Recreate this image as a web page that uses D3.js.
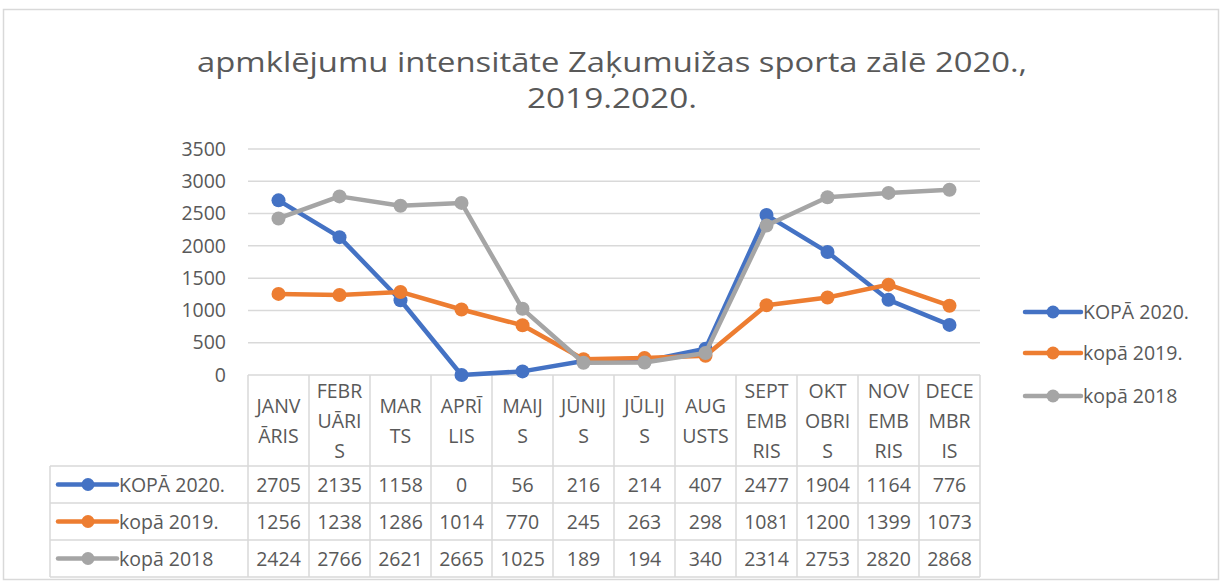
<!DOCTYPE html>
<html><head><meta charset="utf-8">
<script src="https://cdn.jsdelivr.net/npm/d3@7"></script>
<style>body{margin:0;background:#fff}svg{display:block}text{font-family:"Open Sans","Liberation Sans",sans-serif;fill:#595959}</style>
</head><body><svg id="c" width="1220" height="582"></svg>
<script>
const titleLines = ["apmklējumu  intensitāte Zaķumuižas sporta zālē 2020.,", "2019.2020."];
const categoryLines = [["JANV","ĀRIS"],["FEBR","UĀRI","S"],["MAR","TS"],["APRĪ","LIS"],["MAIJ","S"],["JŪNIJ","S"],["JŪLIJ","S"],["AUG","USTS"],["SEPT","EMB","RIS"],["OKT","OBRI","S"],["NOV","EMB","RIS"],["DECE","MBR","IS"]];
const seriesNames = ["KOPĀ 2020.", "kopā 2019.", "kopā 2018"];
const values2020 = [2705,2135,1158,0,56,216,214,407,2477,1904,1164,776];
const values2019 = [1256,1238,1286,1014,770,245,263,298,1081,1200,1399,1073];
const values2018 = [2424,2766,2621,2665,1025,189,194,340,2314,2753,2820,2868];
const yTicks = [0,500,1000,1500,2000,2500,3000,3500];
const colors = ["#4472C4","#ED7D31","#A5A5A5"];

const series = [values2020, values2019, values2018];
const svg = d3.select("#c");
const grid = "#d9d9d9";
const fs = 19.5;

svg.append("rect").attr("x",3.5).attr("y",9.5).attr("width",1215).attr("height",570)
  .attr("fill","none").attr("stroke",grid).attr("stroke-width",1.5);

svg.append("g").selectAll("text").data(titleLines).join("text")
  .attr("x",612).attr("y",(d,i)=>72+i*36).attr("text-anchor","middle")
  .attr("font-size",27).attr("textLength",(d,i)=>i===0?830:170).attr("lengthAdjust","spacingAndGlyphs")
  .text(d=>d);

const x = d3.scaleBand().domain(d3.range(12)).range([248,980]);
const y = d3.scaleLinear().domain([0,3500]).range([375,149]);

svg.append("g").selectAll("line").data(yTicks.slice(1)).join("line")
  .attr("x1",248).attr("x2",980).attr("y1",d=>y(d)).attr("y2",d=>y(d))
  .attr("stroke",grid).attr("stroke-width",1.5);

const ya = svg.append("g").attr("transform","translate(226,0)")
  .call(d3.axisLeft(y).tickValues(yTicks).tickFormat(d3.format("d")).tickSize(0).tickPadding(0));
ya.select(".domain").remove();
ya.selectAll("text").attr("font-size",fs).style("fill","#595959")
  .style("font-family","'Open Sans','Liberation Sans',sans-serif");

const tRow = [375,466,503,540,577];
const tg = svg.append("g");
tg.append("line").attr("x1",248).attr("x2",980).attr("y1",375).attr("y2",375).attr("stroke",grid).attr("stroke-width",1.5);
tg.selectAll("line.h").data(tRow.slice(1)).join("line").attr("class","h")
  .attr("x1",50).attr("x2",980).attr("y1",d=>d).attr("y2",d=>d).attr("stroke",grid).attr("stroke-width",1.5);
const vx = d3.range(13).map(i=>i<12?x(i):x.range()[1]);
tg.selectAll("line.v").data(vx).join("line").attr("class","v")
  .attr("x1",d=>d).attr("x2",d=>d).attr("y1",375).attr("y2",577).attr("stroke",grid).attr("stroke-width",1.5);
tg.append("line").attr("x1",50).attr("x2",50).attr("y1",466).attr("y2",577).attr("stroke",grid).attr("stroke-width",1.5);

categoryLines.forEach((lines,i)=>{
  const n = lines.length;
  const cy = 420.5, lh = 30;
  tg.append("g").selectAll("text").data(lines).join("text")
    .attr("x",x(i)+x.bandwidth()/2).attr("y",(d,j)=>cy+(j-(n-1)/2)*lh+7)
    .attr("text-anchor","middle").attr("font-size",fs).text(d=>d);
});

series.forEach((vals,s)=>{
  const ry = (tRow[s+1]+tRow[s+2])/2 + 7;
  tg.append("g").selectAll("text").data(vals).join("text")
    .attr("x",(d,i)=>x(i)+x.bandwidth()/2).attr("y",ry)
    .attr("text-anchor","middle").attr("font-size",fs).text(d=>d);
  const ky = (tRow[s+1]+tRow[s+2])/2;
  tg.append("line").attr("x1",58).attr("x2",117).attr("y1",ky).attr("y2",ky)
    .attr("stroke",colors[s]).attr("stroke-width",4.5).attr("stroke-linecap","round");
  tg.append("circle").attr("cx",88).attr("cy",ky).attr("r",6.5).attr("fill",colors[s]);
  tg.append("text").attr("x",119).attr("y",ry).attr("font-size",fs).text(seriesNames[s]);
});

const line = d3.line().x((d,i)=>x(i)+x.bandwidth()/2).y(d=>y(d));
series.forEach((vals,s)=>{
  const g = svg.append("g");
  g.append("path").datum(vals).attr("d",line).attr("fill","none")
    .attr("stroke",colors[s]).attr("stroke-width",4.5).attr("stroke-linejoin","round");
  g.selectAll("circle").data(vals).join("circle")
    .attr("cx",(d,i)=>x(i)+x.bandwidth()/2).attr("cy",d=>y(d)).attr("r",7).attr("fill",colors[s]);
});

const ly = [312,353,396];
seriesNames.forEach((n,s)=>{
  const g = svg.append("g");
  g.append("line").attr("x1",1025).attr("x2",1081).attr("y1",ly[s]).attr("y2",ly[s])
    .attr("stroke",colors[s]).attr("stroke-width",4.5).attr("stroke-linecap","round");
  g.append("circle").attr("cx",1053).attr("cy",ly[s]).attr("r",6.5).attr("fill",colors[s]);
  g.append("text").attr("x",1083).attr("y",ly[s]+7).attr("font-size",fs).text(n);
});
</script></body></html>
